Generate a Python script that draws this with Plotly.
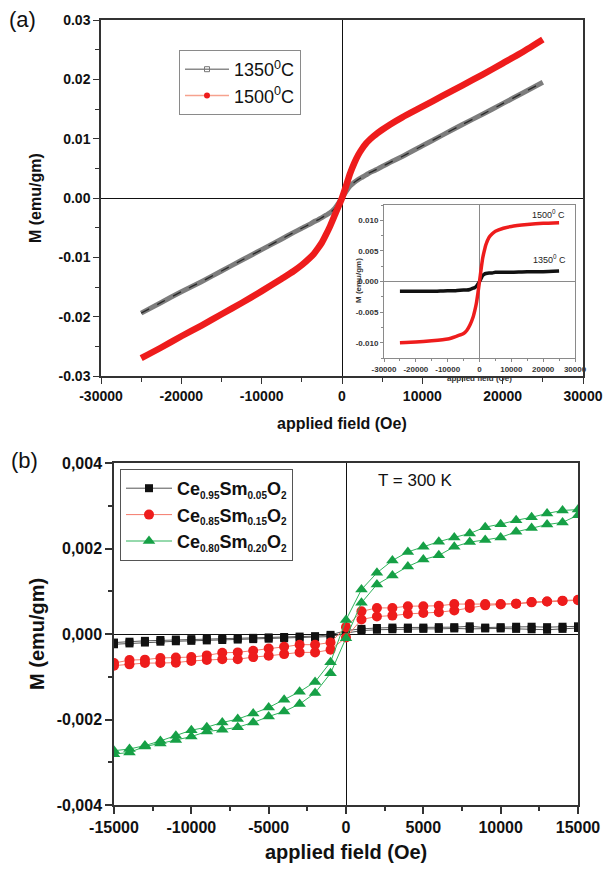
import plotly.graph_objects as go

# ---------------- Panel (a) main data ----------------
H_a = [-25000, -22500, -20000, -17500, -15000, -12500, -10000, -7500, -6000, -5000, -4000,
       -3500, -3000, -2500, -2000, -1500, -1000, -500, 0, 500, 1000, 1500, 2000, 2500, 3000,
       3500, 4000, 5000, 6000, 7500, 10000, 12500, 15000, 17500, 20000, 22500, 25000]
M_1350 = [-0.0194, -0.0176, -0.0158, -0.0141, -0.0123, -0.0105, -0.0087, -0.0069, -0.0058,
          -0.0051, -0.0044, -0.0040, -0.0037, -0.0033, -0.0029, -0.0025, -0.0019, -0.0010,
          0.0, 0.0011, 0.0020, 0.0026, 0.0031, 0.0035, 0.0039, 0.0043, 0.0046, 0.0053, 0.0060,
          0.0070, 0.0088, 0.0106, 0.0124, 0.0141, 0.0159, 0.0177, 0.0195]
M_1500 = [-0.0270, -0.0252, -0.0233, -0.0215, -0.0196, -0.0177, -0.0157, -0.0136, -0.0123,
          -0.0113, -0.0101, -0.0094, -0.0085, -0.0075, -0.0062, -0.0048, -0.0032, -0.0016,
          0.0, 0.0020, 0.0041, 0.0058, 0.0072, 0.0083, 0.0092, 0.0099, 0.0105, 0.0115, 0.0124,
          0.0136, 0.0154, 0.0172, 0.0190, 0.0208, 0.0227, 0.0246, 0.0267]

# ---------------- Inset data ----------------
H_in = [-25000, -20000, -15000, -10000, -7500, -5000, -4000, -3000, -2000, -1500, -1000, -500,
        0, 500, 1000, 1500, 2000, 3000, 4000, 5000, 7500, 10000, 15000, 20000, 25000]
M_in_1500 = [-0.0100, -0.0099, -0.0097, -0.0094, -0.0090, -0.0085, -0.0080, -0.0071, -0.0058,
             -0.0048, -0.0036, -0.0019, 0.0, 0.0020, 0.0038, 0.0050, 0.0060, 0.0072, 0.0078,
             0.0082, 0.0087, 0.0090, 0.0093, 0.0095, 0.0096]
M_in_1350 = [-0.0016, -0.0016, -0.0016, -0.0015, -0.0015, -0.0014, -0.0014, -0.0013, -0.0011,
             -0.0010, -0.0008, -0.0004, 0.0, 0.0005, 0.0010, 0.0012, 0.0013, 0.0014, 0.0014,
             0.0015, 0.0015, 0.0015, 0.0016, 0.0016, 0.0017]

# ---------------- Panel (b) data ----------------
H_b = [-15000, -14000, -13000, -12000, -11000, -10000, -9000, -8000, -7000, -6000, -5000,
       -4000, -3000, -2000, -1000, 0, 1000, 2000, 3000, 4000, 5000, 6000, 7000, 8000, 9000,
       10000, 11000, 12000, 13000, 14000, 15000]
# descending (upper) and ascending (lower) branches
Sm05_desc = [-0.00020, -0.00018, -0.00016, -0.00014, -0.00013, -0.00012, -0.00011, -0.00010,
             -0.00010, -0.00009, -0.00008, -0.00007, -0.00006, -0.00005, -0.00002, 0.00008,
             0.00012, 0.00014, 0.00015, 0.00015, 0.00015, 0.00016, 0.00016, 0.00018, 0.00015,
             0.00016, 0.00017, 0.00017, 0.00016, 0.00017, 0.00018]
Sm05_asc = [-0.00024, -0.00022, -0.00020, -0.00018, -0.00017, -0.00016, -0.00015, -0.00014,
            -0.00013, -0.00012, -0.00011, -0.00010, -0.00009, -0.00008, -0.00006, 0.00002,
            0.00008, 0.00010, 0.00011, 0.00012, 0.00012, 0.00012, 0.00013, 0.00012, 0.00013,
            0.00013, 0.00012, 0.00011, 0.00010, 0.00012, 0.00014]
Sm15_desc = [-0.00068, -0.00061, -0.00060, -0.00056, -0.00055, -0.00054, -0.00050, -0.00044,
             -0.00043, -0.00039, -0.00034, -0.00030, -0.00025, -0.00025, -0.00020, 0.00016,
             0.00053, 0.00061, 0.00061, 0.00065, 0.00065, 0.00066, 0.00070, 0.00070, 0.00070,
             0.00070, 0.00071, 0.00075, 0.00076, 0.00078, 0.00080]
Sm15_asc = [-0.00074, -0.00071, -0.00068, -0.00068, -0.00067, -0.00063, -0.00061, -0.00059,
            -0.00059, -0.00054, -0.00051, -0.00047, -0.00043, -0.00043, -0.00037, -0.00008,
            0.00034, 0.00041, 0.00043, 0.00047, 0.00049, 0.00051, 0.00055, 0.00061, 0.00067,
            0.00069, 0.00071, 0.00074, 0.00076, 0.00077, 0.00079]
Sm20_desc = [-0.00273, -0.00269, -0.00261, -0.00250, -0.00238, -0.00225, -0.00218, -0.00207,
             -0.00199, -0.00186, -0.00172, -0.00154, -0.00135, -0.00112, -0.00066, 0.00033,
             0.00104, 0.00143, 0.00172, 0.00192, 0.00204, 0.00216, 0.00226, 0.00235, 0.00250,
             0.00257, 0.00266, 0.00273, 0.00282, 0.00289, 0.00291]
Sm20_asc = [-0.00281, -0.00277, -0.00263, -0.00256, -0.00248, -0.00240, -0.00228, -0.00224,
            -0.00218, -0.00207, -0.00193, -0.00181, -0.00164, -0.00138, -0.00092, -0.00010,
            0.00073, 0.00116, 0.00137, 0.00158, 0.00174, 0.00184, 0.00204, 0.00215, 0.00220,
            0.00226, 0.00239, 0.00248, 0.00256, 0.00261, 0.00278]

# ---------------- tick labels ----------------
a_xticks = [-30000, -20000, -10000, 0, 10000, 20000, 30000]
a_xticktext = ["-30000", "-20000", "-10000", "0", "10000", "20000", "30000"]
a_yticks = [-0.03, -0.02, -0.01, 0.0, 0.01, 0.02, 0.03]
a_yticktext = ["-0.03", "-0.02", "-0.01", "0.00", "0.01", "0.02", "0.03"]
in_yticks = [-0.010, -0.005, 0.0, 0.005, 0.010]
in_yticktext = ["-0.010", "-0.005", "0.000", "0.005", "0.010"]
b_xticks = [-15000, -10000, -5000, 0, 5000, 10000, 15000]
b_xticktext = ["-15000", "-10000", "-5000", "0", "5000", "10000", "15000"]
b_yticks = [-0.004, -0.002, 0.0, 0.002, 0.004]
b_yticktext = ["-0,004", "-0,002", "0,000", "0,002", "0,004"]

FONT = "Liberation Sans, Arial, sans-serif"
W, H = 611, 870


def px_x(p):
    return p / W


def px_y(p):
    return 1 - p / H


def sub(t):
    return "<sub><span style='font-size:10px'>" + t + "</span></sub>"


fig = go.Figure()

# ---- panel (a) main curves ----
fig.add_trace(go.Scatter(x=H_a, y=M_1350, mode="lines", xaxis="x", yaxis="y",
                         line=dict(color="#7d7d7d", width=5, shape="spline", smoothing=0.6),
                         showlegend=False, hoverinfo="skip"))
fig.add_trace(go.Scatter(x=H_a, y=M_1350, mode="lines", xaxis="x", yaxis="y",
                         line=dict(color="#2a2a2a", width=1.3, dash="dash", shape="spline",
                                   smoothing=0.6),
                         showlegend=False, hoverinfo="skip"))
fig.add_trace(go.Scatter(x=H_a, y=M_1500, mode="lines", xaxis="x", yaxis="y",
                         line=dict(color="#ee1c1c", width=6.5, shape="spline", smoothing=0.6),
                         showlegend=False))
# legend entries for (a)
fig.add_trace(go.Scatter(x=[None], y=[None], mode="lines+markers", xaxis="x", yaxis="y",
                         name="1350<sup>0</sup>C", legend="legend",
                         line=dict(color="#8a8a8a", width=1.5),
                         marker=dict(symbol="square-open", size=5, color="#777777",
                                     line=dict(width=1, color="#777777"))))
fig.add_trace(go.Scatter(x=[None], y=[None], mode="lines+markers", xaxis="x", yaxis="y",
                         name="1500<sup>0</sup>C", legend="legend",
                         line=dict(color="#f6a28e", width=1.5),
                         marker=dict(symbol="circle", size=6, color="#ee1c1c")))

# ---- inset ----
fig.add_trace(go.Scatter(x=H_in, y=M_in_1350, mode="lines", xaxis="x3", yaxis="y3",
                         line=dict(color="#111111", width=3.5, shape="spline", smoothing=0.5),
                         showlegend=False))
fig.add_trace(go.Scatter(x=H_in, y=M_in_1500, mode="lines", xaxis="x3", yaxis="y3",
                         line=dict(color="#ee1c1c", width=3.5, shape="spline", smoothing=0.5),
                         showlegend=False))

# ---- panel (b) ----
series_b = [
    ("Ce" + sub("0.95") + "Sm" + sub("0.05") + "O" + sub("2"), Sm05_desc, Sm05_asc,
     "#555555", "square", 8, "#111111"),
    ("Ce" + sub("0.85") + "Sm" + sub("0.15") + "O" + sub("2"), Sm15_desc, Sm15_asc,
     "#f47a6a", "circle", 10, "#ee1c1c"),
    ("Ce" + sub("0.80") + "Sm" + sub("0.20") + "O" + sub("2"), Sm20_desc, Sm20_asc,
     "#2db35a", "triangle-up", 11, "#16a046"),
]
for name, desc, asc, lcol, sym, size, mcol in series_b:
    xs = H_b[::-1] + H_b
    ys = desc[::-1] + asc
    fig.add_trace(go.Scatter(x=xs, y=ys, mode="lines+markers", xaxis="x2", yaxis="y2",
                             name=name, legend="legend2",
                             line=dict(color=lcol, width=1),
                             marker=dict(symbol=sym, size=size, color=mcol,
                                         line=dict(width=0))))

axis_common = dict(showgrid=False, showline=True, mirror=True, ticks="outside",
                   automargin=False,
                   zeroline=True, zerolinecolor="#111111", zerolinewidth=1.2,
                   linecolor="#333333", linewidth=1.5, tickcolor="#333333")
inset_common = dict(showgrid=False, showline=True, mirror=True, linecolor="#8a8a8a",
                    linewidth=1, automargin=False,
                    ticks="outside", ticklen=3, tickcolor="#8a8a8a",
                    zeroline=True, zerolinecolor="#8a8a8a", zerolinewidth=1,
                    tickfont=dict(size=8, weight="bold", color="#333333"))

fig.update_layout(
    template="none",
    width=W, height=H, autosize=False,
    margin=dict(l=0, r=0, t=0, b=0, pad=0, autoexpand=False),
    paper_bgcolor="white", plot_bgcolor="white",
    font=dict(family=FONT, color="#111111"),
    xaxis=dict(domain=[px_x(101), px_x(583)], range=[-30000, 30000], anchor="y",
               tickvals=a_xticks, ticktext=a_xticktext,
               ticklen=6, tickwidth=1.3,
               tickfont=dict(size=14, weight="bold"),
               minor=dict(dtick=5000, tick0=0, ticklen=4, tickcolor="#333333", ticks="outside"),
               **axis_common),
    yaxis=dict(domain=[px_y(376), px_y(20)], range=[-0.03, 0.03], anchor="x",
               tickvals=a_yticks, ticktext=a_yticktext, ticklen=6, tickwidth=1.3,
               tickfont=dict(size=14, weight="bold"),
               minor=dict(dtick=0.005, tick0=0, ticklen=4, tickcolor="#333333", ticks="outside"),
               **axis_common),
    xaxis2=dict(domain=[px_x(114), px_x(578)], range=[-15000, 15000], anchor="y2",
                tickvals=b_xticks, ticktext=b_xticktext,
                ticklen=7, tickwidth=1.5,
                tickfont=dict(size=16, weight="bold"),
                minor=dict(dtick=2500, tick0=0, ticklen=4, tickcolor="#333333", ticks="outside"),
                **axis_common),
    yaxis2=dict(domain=[px_y(805), px_y(463)], range=[-0.004, 0.004], anchor="x2",
                tickvals=b_yticks, ticktext=b_yticktext, ticklen=7, tickwidth=1.5,
                tickfont=dict(size=16, weight="bold"),
                minor=dict(dtick=0.001, tick0=0, ticklen=4, tickcolor="#333333", ticks="outside"),
                **axis_common),
    xaxis3=dict(domain=[px_x(384), px_x(575)], range=[-30000, 30000], anchor="y3",
                tickvals=a_xticks, ticktext=a_xticktext,
                minor=dict(dtick=5000, tick0=0, ticklen=2, tickcolor="#8a8a8a", ticks="outside"),
                **inset_common),
    yaxis3=dict(domain=[px_y(358), px_y(205)], range=[-0.0125, 0.0125], anchor="x3",
                tickvals=in_yticks, ticktext=in_yticktext,
                minor=dict(dtick=0.0025, tick0=0, ticklen=2, tickcolor="#8a8a8a", ticks="outside"),
                **inset_common),
    legend=dict(x=px_x(179), y=px_y(50), xanchor="left", yanchor="top",
                bgcolor="white", bordercolor="#8a8a8a", borderwidth=1,
                font=dict(size=18, family=FONT, color="#111111"),
                itemwidth=44, tracegroupgap=0),
    legend2=dict(x=px_x(120), y=px_y(469), xanchor="left", yanchor="top",
                 bgcolor="white", bordercolor="#555555", borderwidth=1,
                 font=dict(size=18, family=FONT, color="#111111", weight="bold"),
                 itemwidth=46, tracegroupgap=0),
)

ann = [
    dict(text="(a)", x=px_x(22), y=px_y(20), font=dict(size=22)),
    dict(text="(b)", x=px_x(24), y=px_y(460), font=dict(size=22)),
    dict(text="applied field (Oe)", x=px_x(342), y=px_y(423), font=dict(size=16, weight="bold")),
    dict(text="M (emu/gm)", x=px_x(35), y=px_y(198), font=dict(size=16, weight="bold"),
         textangle=-90),
    dict(text="applied field (Oe)", x=px_x(346), y=px_y(852), font=dict(size=20, weight="bold")),
    dict(text="M (emu/gm)", x=px_x(37), y=px_y(634), font=dict(size=20, weight="bold"),
         textangle=-90),
    dict(text="applied field (Oe)", x=px_x(479), y=px_y(378), font=dict(size=8, weight="bold",
                                                                      color="#333333")),
    dict(text="M (emu/gm)", x=px_x(358), y=px_y(281), font=dict(size=8, weight="bold",
                                                               color="#333333"),
         textangle=-90),
    dict(text="T = 300 K", x=px_x(415), y=px_y(480), font=dict(size=17)),
    dict(text="1500<sup>0</sup> C", x=px_x(548), y=px_y(214), font=dict(size=9, color="#222222")),
    dict(text="1350<sup>0</sup> C", x=px_x(549), y=px_y(259), font=dict(size=9, color="#222222")),
]
for a in ann:
    a.update(xref="paper", yref="paper", showarrow=False, xanchor="center", yanchor="middle")
    a["font"].setdefault("family", FONT)
    a["font"].setdefault("color", "#111111")
fig.update_layout(annotations=ann)

fig.write_html("out.html", config={"responsive": False},
               post_script="document.body.style.margin='0';document.body.style.padding='0';")
